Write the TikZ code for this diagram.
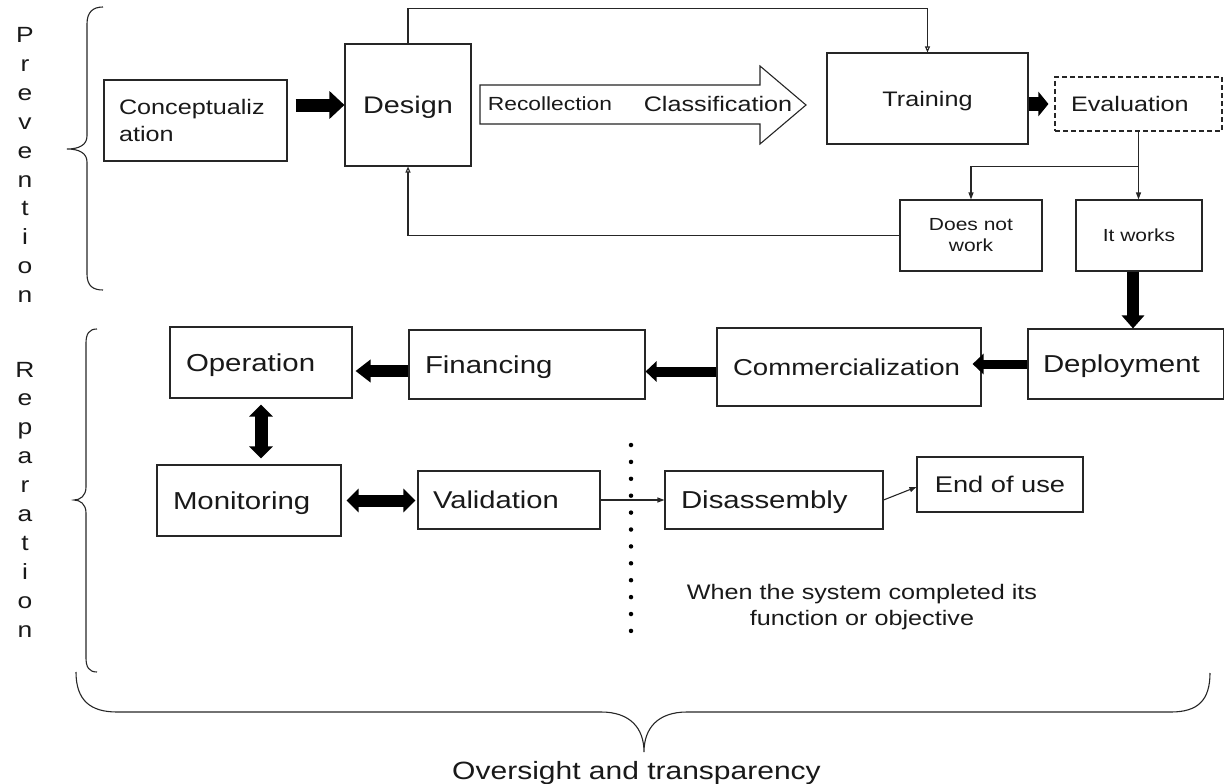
\documentclass[tikz,border=0pt]{standalone}
\usepackage{fontspec}
\setmainfont{Liberation Sans}[FakeStretch=1.2]
\usetikzlibrary{arrows.meta}
\newcommand{\myfs}[2]{\fontsize{#1}{#2}\selectfont}
\begin{document}
\begin{tikzpicture}[x=1pt,y=-1pt,
  bx/.style={draw=black!85, line width=1.1pt, inner ysep=0pt, anchor=center, text=black!90},
  one/.style={text depth=0pt},
  lbl/.style={inner sep=0pt, text=black!90},
  thinl/.style={draw=black!85, line width=1.1pt},
  opentip/.style={-{Triangle[open,length=6pt 0 0,width=5pt 0 0]}},
  filltip/.style={-{Triangle[length=7pt 0 0,width=5pt 0 0]}},
  fat/.style n args={3}{draw=black, line width=#1, -{Triangle[length=#2 0 0, width=#3 0 0]}},
  dfat/.style n args={3}{draw=black, line width=#1, {Triangle[length=#2 0 0, width=#3 0 0]}-{Triangle[length=#2 0 0, width=#3 0 0]}},
  brace/.style={draw=black!85, line width=1.1pt},
  sidel/.style={inner sep=0pt, anchor=base, text=black!90, font={\myfs{22}{26}}},
]
\useasboundingbox (0,0) rectangle (1224,784);

% side labels
\foreach \l [count=\i] in {P,r,e,v,e,n,t,i,o,n}
  \node[sidel] (pv\i) at (25,{43+(\i-1)*28.8}) {\l};
\foreach \l [count=\i] in {R,e,p,a,r,a,t,i,o,n}
  \node[sidel] (rp\i) at (25,{377+(\i-1)*28.9}) {\l};

% braces
\draw[brace] (103,7) .. controls (93,7) and (87,12) .. (87,24) -- (87,136)
  .. controls (87,145) and (79,149) .. (67,149)
  .. controls (79,149) and (87,153) .. (87,162) -- (87,274)
  .. controls (87,286) and (93,290) .. (103,290);
\draw[brace] (97,329) .. controls (89,329) and (86,334) .. (86,343) -- (86,487)
  .. controls (86,496) and (80,500) .. (74,500)
  .. controls (80,500) and (86,504) .. (86,513) -- (86,658)
  .. controls (86,667) and (89,672) .. (97,672);
\draw[brace] (76,672) .. controls (76,700) and (90,712) .. (117,712) -- (601,712)
  .. controls (630,712) and (644,728) .. (644,752)
  .. controls (644,728) and (658,712) .. (687,712) -- (1171,712)
  .. controls (1198,712) and (1210,700) .. (1210,673);

% top row boxes
\node[bx, text width=153pt, inner xsep=15pt, minimum height=81pt, align=left, font={\myfs{21}{27}}] (concept) at (195.5,120.5) {Conceptualiz\\ation};
\node[bx, one, text width=106pt, inner xsep=10pt, minimum height=122pt, align=center, font={\myfs{24}{28}}] (design) at (408,105) {Design};
\node[bx, one, text width=181pt, inner xsep=10pt, minimum height=91pt, align=center, font={\myfs{21}{25}}] (training) at (927.5,98.5) {Training};
\node[bx, one, dash pattern=on 5pt off 3pt, text width=135pt, inner xsep=16pt, minimum height=54pt, align=left, font={\myfs{21}{25}}] (eval) at (1138.5,104) {Evaluation};
\node[bx, text width=126pt, inner xsep=8pt, minimum height=71pt, align=center, font={\myfs{17.5}{21}}] (doesnot) at (971,235.5) {Does not\\work};
\node[bx, one, text width=110pt, inner xsep=8pt, minimum height=71pt, align=center, font={\myfs{17.5}{21}}] (itworks) at (1139,235.5) {It works};

% big hollow arrow
\draw[thinl, fill=white] (480,85) -- (760,85) -- (760,66) -- (806,105) -- (760,144) -- (760,124) -- (480,124) -- cycle;
\node[lbl, one, font={\myfs{19}{23}}] (recol) at (550,104) {Recollection};
\node[lbl, one, font={\myfs{21}{25}}] (classif) at (718,104) {Classification};

% lower boxes
\node[bx, one, text width=165.5pt, inner xsep=15pt, minimum height=70pt, align=left, font={\myfs{24.5}{28}}] (deploy) at (1125.75,364) {Deployment};
\node[bx, one, text width=232pt, inner xsep=16pt, minimum height=78pt, align=left, font={\myfs{23}{27}}] (comm) at (849,367) {Commercialization};
\node[bx, one, text width=204pt, inner xsep=16pt, minimum height=69pt, align=left, font={\myfs{24.5}{28}}] (fin) at (527,364.5) {Financing};
\node[bx, one, text width=150pt, inner xsep=16pt, minimum height=71pt, align=left, font={\myfs{24.5}{28}}] (op) at (261,362.5) {Operation};
\node[bx, one, text width=152pt, inner xsep=16pt, minimum height=71pt, align=left, font={\myfs{24.5}{28}}] (mon) at (249,500.5) {Monitoring};
\node[bx, one, text width=152pt, inner xsep=15pt, minimum height=58pt, align=left, font={\myfs{24.3}{28}}] (val) at (509,500) {Validation};
\node[bx, one, text width=186pt, inner xsep=16pt, minimum height=58pt, align=left, font={\myfs{24.5}{28}}] (diss) at (774,500) {Disassembly};
\node[bx, one, text width=150pt, inner xsep=8pt, minimum height=55pt, align=center, font={\myfs{22.7}{27}}] (eou) at (1000,484.5) {End of use};

\node[lbl, align=center, font={\myfs{21}{26}}] (when) at (862,607) {When the system completed its\\function or objective};
\node[lbl, font={\myfs{25}{29}}] (over) at (636.5,773) {Oversight and transparency};

% dotted separator
\draw[black, line width=4.5pt, dash pattern=on 0pt off 16.9pt, line cap=round] (631,445) -- (631,634);

% thin connectors
\draw[thinl, opentip] (design.north) -- ++(0,-35) -| (training.north);
\draw[thinl, opentip] (doesnot.west) -| (design.south);
\draw[thinl] (eval.south) -- ++(0,35) coordinate (br);
\draw[thinl, filltip] (br) -| (doesnot.north);
\draw[thinl, filltip] (br) -- (br |- itworks.north);
\draw[thinl, filltip] (val.east) -- (diss.west);
\draw[thinl, filltip] (diss.east) -- ([yshift=-2.5pt]eou.west);

% fat arrows
\draw[fat={13pt}{15pt}{27pt}] ([xshift=8pt]concept.east |- design.west) -- (design.west);
\draw[fat={14pt}{10pt}{24pt}] (training.east |- eval.west) -- ([xshift=-6pt]eval.west);
\draw[fat={12pt}{13pt}{22pt}] ([xshift=-6pt]itworks.south) -- ([xshift=-6pt]itworks.south |- deploy.north);
\draw[fat={9pt}{11pt}{20pt}] (deploy.west) -- ([xshift=-9pt]comm.east |- deploy.west);
\draw[fat={10pt}{11pt}{20pt}] ([yshift=-4.5pt]comm.west) -- ([yshift=-4.5pt]comm.west -| fin.east);
\draw[fat={12pt}{15pt}{22pt}] ([yshift=-6.5pt]fin.west) -- ([yshift=-6.5pt,xshift=3pt]fin.west -| op.east);
\draw[dfat={13pt}{12pt}{23pt}] ([yshift=-6pt]op.south) -- ([yshift=6pt]op.south |- mon.north);
\draw[dfat={12pt}{12pt}{23pt}] ([xshift=5pt]mon.east) -- ([xshift=-2pt]mon.east -| val.west);
\end{tikzpicture}
\end{document}
